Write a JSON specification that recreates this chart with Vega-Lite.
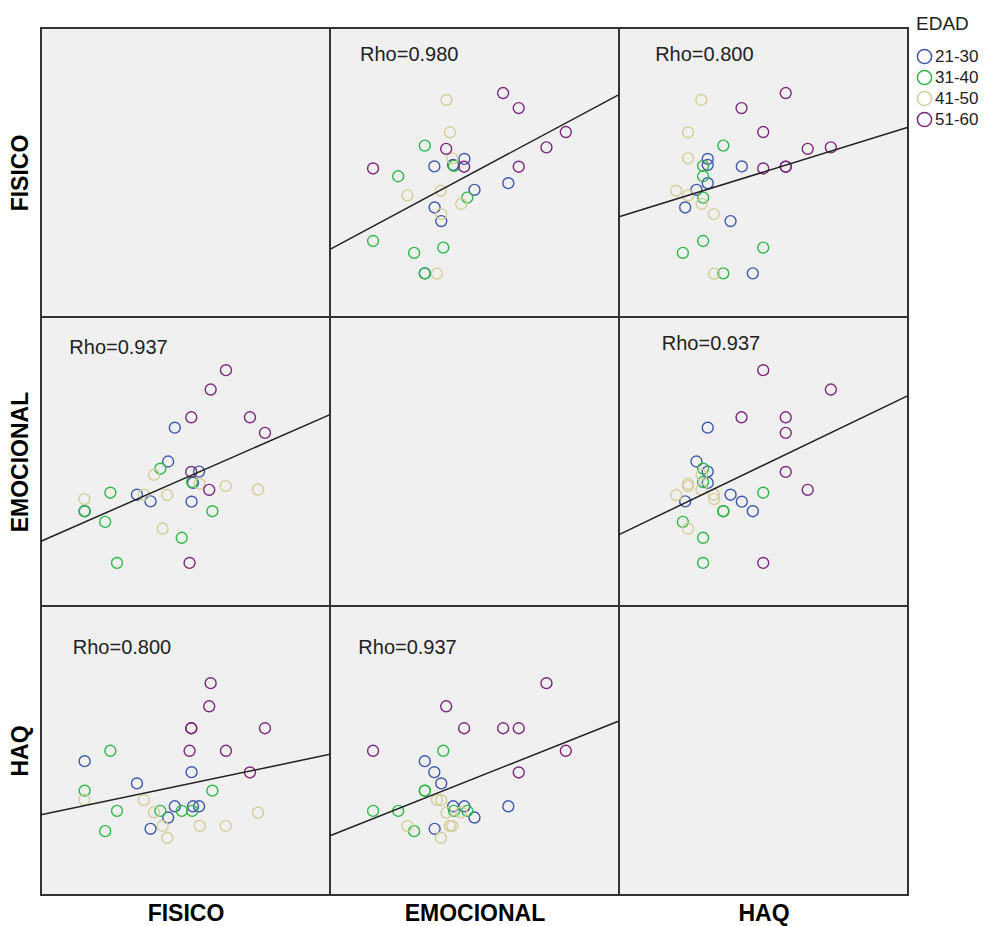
{
  "$schema": "https://vega.github.io/schema/vega-lite/v6.json",
  "padding": {"left": 8, "top": 15, "right": 0, "bottom": 0},
  "background": "white",
  "data": {"values": [
    {"EDAD": "21-30", "FISICO": 54.7, "EMOCIONAL": 46.5, "HAQ": 30.7},
    {"EDAD": "21-30", "FISICO": 52.6, "EMOCIONAL": 42.6, "HAQ": 30.7},
    {"EDAD": "21-30", "FISICO": 52.1, "EMOCIONAL": 36.1, "HAQ": 42.5},
    {"EDAD": "21-30", "FISICO": 46.3, "EMOCIONAL": 61.7, "HAQ": 30.7},
    {"EDAD": "21-30", "FISICO": 44.0, "EMOCIONAL": 50.0, "HAQ": 26.8},
    {"EDAD": "21-30", "FISICO": 37.9, "EMOCIONAL": 36.2, "HAQ": 22.9},
    {"EDAD": "21-30", "FISICO": 33.2, "EMOCIONAL": 38.5, "HAQ": 38.6},
    {"EDAD": "21-30", "FISICO": 15.1, "EMOCIONAL": 32.8, "HAQ": 46.3},
    {"EDAD": "31-40", "FISICO": 59.3, "EMOCIONAL": 32.8, "HAQ": 36.1},
    {"EDAD": "31-40", "FISICO": 52.3, "EMOCIONAL": 42.9, "HAQ": 29.1},
    {"EDAD": "31-40", "FISICO": 48.7, "EMOCIONAL": 23.6, "HAQ": 29.1},
    {"EDAD": "31-40", "FISICO": 41.3, "EMOCIONAL": 47.5, "HAQ": 29.1},
    {"EDAD": "31-40", "FISICO": 26.3, "EMOCIONAL": 14.9, "HAQ": 29.1},
    {"EDAD": "31-40", "FISICO": 22.2, "EMOCIONAL": 29.1, "HAQ": 22.1},
    {"EDAD": "31-40", "FISICO": 24.0, "EMOCIONAL": 39.2, "HAQ": 49.9},
    {"EDAD": "31-40", "FISICO": 15.1, "EMOCIONAL": 32.8, "HAQ": 36.1},
    {"EDAD": "41-50", "FISICO": 75.1, "EMOCIONAL": 40.3, "HAQ": 28.5},
    {"EDAD": "41-50", "FISICO": 63.9, "EMOCIONAL": 41.5, "HAQ": 23.9},
    {"EDAD": "41-50", "FISICO": 54.9, "EMOCIONAL": 42.3, "HAQ": 23.9},
    {"EDAD": "41-50", "FISICO": 42.1, "EMOCIONAL": 26.8, "HAQ": 23.9},
    {"EDAD": "41-50", "FISICO": 43.7, "EMOCIONAL": 38.4, "HAQ": 19.8},
    {"EDAD": "41-50", "FISICO": 39.1, "EMOCIONAL": 45.4, "HAQ": 28.6},
    {"EDAD": "41-50", "FISICO": 35.6, "EMOCIONAL": 38.5, "HAQ": 32.8},
    {"EDAD": "41-50", "FISICO": 15.0, "EMOCIONAL": 37.0, "HAQ": 32.9},
    {"EDAD": "51-60", "FISICO": 77.5, "EMOCIONAL": 59.9, "HAQ": 57.7},
    {"EDAD": "51-60", "FISICO": 72.3, "EMOCIONAL": 65.3, "HAQ": 42.4},
    {"EDAD": "51-60", "FISICO": 64.0, "EMOCIONAL": 81.6, "HAQ": 49.9},
    {"EDAD": "51-60", "FISICO": 58.7, "EMOCIONAL": 74.9, "HAQ": 73.3},
    {"EDAD": "51-60", "FISICO": 58.2, "EMOCIONAL": 40.2, "HAQ": 65.3},
    {"EDAD": "51-60", "FISICO": 52.0, "EMOCIONAL": 65.3, "HAQ": 57.7},
    {"EDAD": "51-60", "FISICO": 52.0, "EMOCIONAL": 46.4, "HAQ": 57.7},
    {"EDAD": "51-60", "FISICO": 51.4, "EMOCIONAL": 14.9, "HAQ": 49.9}
  ]},
  "columns": 3,
  "spacing": 0,
  "bounds": "flush",
  "concat": [
    {"width": 289, "height": 289,
     "mark": {"type": "point", "opacity": 0},
     "encoding": {
       "x": {"field": "FISICO", "type": "quantitative", "scale": {"domain": [0, 100], "nice": false, "zero": false}, "axis": null},
       "y": {"field": "FISICO", "type": "quantitative", "scale": {"domain": [0, 100], "nice": false, "zero": false}, "axis": {"title": "FISICO", "titlePadding": 9}}
     }},
    {"width": 289, "height": 289, "layer": [
      {"mark": {"type": "point", "filled": false, "size": 120, "strokeWidth": 1.4, "opacity": 1},
       "encoding": {
         "x": {"field": "EMOCIONAL", "type": "quantitative", "scale": {"domain": [0, 100], "nice": false, "zero": false}, "axis": null},
         "y": {"field": "FISICO", "type": "quantitative", "scale": {"domain": [0, 100], "nice": false, "zero": false}, "axis": null},
         "color": {"field": "EDAD", "type": "nominal", "scale": {"domain": ["21-30", "31-40", "41-50", "51-60"], "range": ["#3E58AC", "#2EB848", "#D3CE97", "#7C287D"]},
           "legend": {"orient": "none", "legendX": 875, "legendY": -13, "title": "EDAD", "titleFont": "Liberation Sans", "titleFontSize": 19, "titleFontWeight": "normal", "titleColor": "#222", "titlePadding": 14, "labelFont": "Liberation Sans", "labelFontSize": 17, "labelColor": "#222", "labelOffset": 2, "symbolType": "circle", "symbolSize": 200, "symbolStrokeWidth": 1.5, "rowPadding": 0, "padding": 0}}
       }},
      {"transform": [{"regression": "FISICO", "on": "EMOCIONAL", "extent": [0, 100]}],
       "mark": {"type": "line", "color": "#222", "strokeWidth": 1.5},
       "encoding": {"x": {"field": "EMOCIONAL", "type": "quantitative", "axis": null}, "y": {"field": "FISICO", "type": "quantitative", "axis": null}}},
      {"data": {"values": [{"rho": "Rho=0.980"}]},
       "mark": {"type": "text", "align": "left", "baseline": "middle", "font": "Liberation Sans", "fontSize": 20, "color": "#222"},
       "encoding": {"x": {"datum": 10.4, "type": "quantitative", "axis": null}, "y": {"datum": 90.8, "type": "quantitative", "axis": null}, "text": {"field": "rho"}}}
    ]},
    {"width": 289, "height": 289, "layer": [
      {"mark": {"type": "point", "filled": false, "size": 120, "strokeWidth": 1.4, "opacity": 1},
       "encoding": {
         "x": {"field": "HAQ", "type": "quantitative", "scale": {"domain": [0, 100], "nice": false, "zero": false}, "axis": null},
         "y": {"field": "FISICO", "type": "quantitative", "scale": {"domain": [0, 100], "nice": false, "zero": false}, "axis": null},
         "color": {"field": "EDAD", "type": "nominal", "scale": {"domain": ["21-30", "31-40", "41-50", "51-60"], "range": ["#3E58AC", "#2EB848", "#D3CE97", "#7C287D"]},
           "legend": {"orient": "none", "legendX": 875, "legendY": -13, "title": "EDAD", "titleFont": "Liberation Sans", "titleFontSize": 19, "titleFontWeight": "normal", "titleColor": "#222", "titlePadding": 14, "labelFont": "Liberation Sans", "labelFontSize": 17, "labelColor": "#222", "labelOffset": 2, "symbolType": "circle", "symbolSize": 200, "symbolStrokeWidth": 1.5, "rowPadding": 0, "padding": 0}}
       }},
      {"transform": [{"regression": "FISICO", "on": "HAQ", "extent": [0, 100]}],
       "mark": {"type": "line", "color": "#222", "strokeWidth": 1.5},
       "encoding": {"x": {"field": "HAQ", "type": "quantitative", "axis": null}, "y": {"field": "FISICO", "type": "quantitative", "axis": null}}},
      {"data": {"values": [{"rho": "Rho=0.800"}]},
       "mark": {"type": "text", "align": "left", "baseline": "middle", "font": "Liberation Sans", "fontSize": 20, "color": "#222"},
       "encoding": {"x": {"datum": 12.5, "type": "quantitative", "axis": null}, "y": {"datum": 90.8, "type": "quantitative", "axis": null}, "text": {"field": "rho"}}}
    ]},
    {"width": 289, "height": 289, "layer": [
      {"mark": {"type": "point", "filled": false, "size": 120, "strokeWidth": 1.4, "opacity": 1},
       "encoding": {
         "x": {"field": "FISICO", "type": "quantitative", "scale": {"domain": [0, 100], "nice": false, "zero": false}, "axis": null},
         "y": {"field": "EMOCIONAL", "type": "quantitative", "scale": {"domain": [0, 100], "nice": false, "zero": false}, "axis": {"title": "EMOCIONAL", "titlePadding": 9}},
         "color": {"field": "EDAD", "type": "nominal", "scale": {"domain": ["21-30", "31-40", "41-50", "51-60"], "range": ["#3E58AC", "#2EB848", "#D3CE97", "#7C287D"]},
           "legend": {"orient": "none", "legendX": 875, "legendY": -13, "title": "EDAD", "titleFont": "Liberation Sans", "titleFontSize": 19, "titleFontWeight": "normal", "titleColor": "#222", "titlePadding": 14, "labelFont": "Liberation Sans", "labelFontSize": 17, "labelColor": "#222", "labelOffset": 2, "symbolType": "circle", "symbolSize": 200, "symbolStrokeWidth": 1.5, "rowPadding": 0, "padding": 0}}
       }},
      {"transform": [{"regression": "EMOCIONAL", "on": "FISICO", "extent": [0, 100]}],
       "mark": {"type": "line", "color": "#222", "strokeWidth": 1.5},
       "encoding": {"x": {"field": "FISICO", "type": "quantitative", "axis": null}, "y": {"field": "EMOCIONAL", "type": "quantitative", "axis": {"title": "EMOCIONAL", "titlePadding": 9}}}},
      {"data": {"values": [{"rho": "Rho=0.937"}]},
       "mark": {"type": "text", "align": "left", "baseline": "middle", "font": "Liberation Sans", "fontSize": 20, "color": "#222"},
       "encoding": {"x": {"datum": 9.8, "type": "quantitative", "axis": null}, "y": {"datum": 89.4, "type": "quantitative", "axis": {"title": "EMOCIONAL", "titlePadding": 9}}, "text": {"field": "rho"}}}
    ]},
    {"width": 289, "height": 289,
     "mark": {"type": "point", "opacity": 0},
     "encoding": {
       "x": {"field": "EMOCIONAL", "type": "quantitative", "scale": {"domain": [0, 100], "nice": false, "zero": false}, "axis": null},
       "y": {"field": "EMOCIONAL", "type": "quantitative", "scale": {"domain": [0, 100], "nice": false, "zero": false}, "axis": null}
     }},
    {"width": 289, "height": 289, "layer": [
      {"mark": {"type": "point", "filled": false, "size": 120, "strokeWidth": 1.4, "opacity": 1},
       "encoding": {
         "x": {"field": "HAQ", "type": "quantitative", "scale": {"domain": [0, 100], "nice": false, "zero": false}, "axis": null},
         "y": {"field": "EMOCIONAL", "type": "quantitative", "scale": {"domain": [0, 100], "nice": false, "zero": false}, "axis": null},
         "color": {"field": "EDAD", "type": "nominal", "scale": {"domain": ["21-30", "31-40", "41-50", "51-60"], "range": ["#3E58AC", "#2EB848", "#D3CE97", "#7C287D"]},
           "legend": {"orient": "none", "legendX": 875, "legendY": -13, "title": "EDAD", "titleFont": "Liberation Sans", "titleFontSize": 19, "titleFontWeight": "normal", "titleColor": "#222", "titlePadding": 14, "labelFont": "Liberation Sans", "labelFontSize": 17, "labelColor": "#222", "labelOffset": 2, "symbolType": "circle", "symbolSize": 200, "symbolStrokeWidth": 1.5, "rowPadding": 0, "padding": 0}}
       }},
      {"transform": [{"regression": "EMOCIONAL", "on": "HAQ", "extent": [0, 100]}],
       "mark": {"type": "line", "color": "#222", "strokeWidth": 1.5},
       "encoding": {"x": {"field": "HAQ", "type": "quantitative", "axis": null}, "y": {"field": "EMOCIONAL", "type": "quantitative", "axis": null}}},
      {"data": {"values": [{"rho": "Rho=0.937"}]},
       "mark": {"type": "text", "align": "left", "baseline": "middle", "font": "Liberation Sans", "fontSize": 20, "color": "#222"},
       "encoding": {"x": {"datum": 14.8, "type": "quantitative", "axis": null}, "y": {"datum": 90.5, "type": "quantitative", "axis": null}, "text": {"field": "rho"}}}
    ]},
    {"width": 289, "height": 289, "layer": [
      {"mark": {"type": "point", "filled": false, "size": 120, "strokeWidth": 1.4, "opacity": 1},
       "encoding": {
         "x": {"field": "FISICO", "type": "quantitative", "scale": {"domain": [0, 100], "nice": false, "zero": false}, "axis": {"title": "FISICO", "titlePadding": 7}},
         "y": {"field": "HAQ", "type": "quantitative", "scale": {"domain": [0, 100], "nice": false, "zero": false}, "axis": {"title": "HAQ", "titlePadding": 9}},
         "color": {"field": "EDAD", "type": "nominal", "scale": {"domain": ["21-30", "31-40", "41-50", "51-60"], "range": ["#3E58AC", "#2EB848", "#D3CE97", "#7C287D"]},
           "legend": {"orient": "none", "legendX": 875, "legendY": -13, "title": "EDAD", "titleFont": "Liberation Sans", "titleFontSize": 19, "titleFontWeight": "normal", "titleColor": "#222", "titlePadding": 14, "labelFont": "Liberation Sans", "labelFontSize": 17, "labelColor": "#222", "labelOffset": 2, "symbolType": "circle", "symbolSize": 200, "symbolStrokeWidth": 1.5, "rowPadding": 0, "padding": 0}}
       }},
      {"transform": [{"regression": "HAQ", "on": "FISICO", "extent": [0, 100]}],
       "mark": {"type": "line", "color": "#222", "strokeWidth": 1.5},
       "encoding": {"x": {"field": "FISICO", "type": "quantitative", "axis": {"title": "FISICO", "titlePadding": 7}}, "y": {"field": "HAQ", "type": "quantitative", "axis": {"title": "HAQ", "titlePadding": 9}}}},
      {"data": {"values": [{"rho": "Rho=0.800"}]},
       "mark": {"type": "text", "align": "left", "baseline": "middle", "font": "Liberation Sans", "fontSize": 20, "color": "#222"},
       "encoding": {"x": {"datum": 11.0, "type": "quantitative", "axis": {"title": "FISICO", "titlePadding": 7}}, "y": {"datum": 85.3, "type": "quantitative", "axis": {"title": "HAQ", "titlePadding": 9}}, "text": {"field": "rho"}}}
    ]},
    {"width": 289, "height": 289, "layer": [
      {"mark": {"type": "point", "filled": false, "size": 120, "strokeWidth": 1.4, "opacity": 1},
       "encoding": {
         "x": {"field": "EMOCIONAL", "type": "quantitative", "scale": {"domain": [0, 100], "nice": false, "zero": false}, "axis": {"title": "EMOCIONAL", "titlePadding": 7}},
         "y": {"field": "HAQ", "type": "quantitative", "scale": {"domain": [0, 100], "nice": false, "zero": false}, "axis": null},
         "color": {"field": "EDAD", "type": "nominal", "scale": {"domain": ["21-30", "31-40", "41-50", "51-60"], "range": ["#3E58AC", "#2EB848", "#D3CE97", "#7C287D"]},
           "legend": {"orient": "none", "legendX": 875, "legendY": -13, "title": "EDAD", "titleFont": "Liberation Sans", "titleFontSize": 19, "titleFontWeight": "normal", "titleColor": "#222", "titlePadding": 14, "labelFont": "Liberation Sans", "labelFontSize": 17, "labelColor": "#222", "labelOffset": 2, "symbolType": "circle", "symbolSize": 200, "symbolStrokeWidth": 1.5, "rowPadding": 0, "padding": 0}}
       }},
      {"transform": [{"regression": "HAQ", "on": "EMOCIONAL", "extent": [0, 100]}],
       "mark": {"type": "line", "color": "#222", "strokeWidth": 1.5},
       "encoding": {"x": {"field": "EMOCIONAL", "type": "quantitative", "axis": {"title": "EMOCIONAL", "titlePadding": 7}}, "y": {"field": "HAQ", "type": "quantitative", "axis": null}}},
      {"data": {"values": [{"rho": "Rho=0.937"}]},
       "mark": {"type": "text", "align": "left", "baseline": "middle", "font": "Liberation Sans", "fontSize": 20, "color": "#222"},
       "encoding": {"x": {"datum": 9.8, "type": "quantitative", "axis": {"title": "EMOCIONAL", "titlePadding": 7}}, "y": {"datum": 85.3, "type": "quantitative", "axis": null}, "text": {"field": "rho"}}}
    ]},
    {"width": 289, "height": 289,
     "mark": {"type": "point", "opacity": 0},
     "encoding": {
       "x": {"field": "HAQ", "type": "quantitative", "scale": {"domain": [0, 100], "nice": false, "zero": false}, "axis": {"title": "HAQ", "titlePadding": 7}},
       "y": {"field": "HAQ", "type": "quantitative", "scale": {"domain": [0, 100], "nice": false, "zero": false}, "axis": null}
     }}
  ],
  "config": {
    "view": {"fill": "#f0f0f0", "stroke": "#333333", "strokeWidth": 2},
    "axis": {"labels": false, "ticks": false, "domain": false, "grid": false, "titleFont": "Liberation Sans", "titleFontSize": 23, "titleFontWeight": "bold", "titleColor": "#000000"}
  }
}
